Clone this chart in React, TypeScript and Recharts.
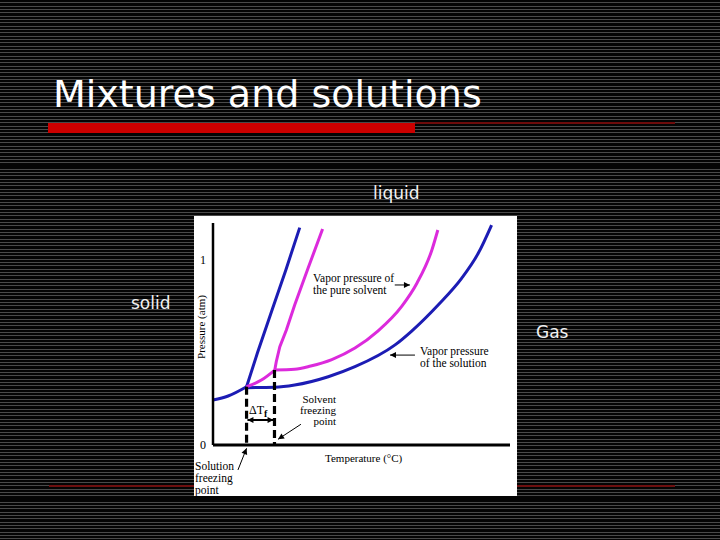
import React from "react";
import { LineChart, Line, XAxis, YAxis, ReferenceLine } from "recharts";

// temperature (arbitrary units, 0-100) vs pressure (atm)
const solidGasSolution = [
  { t: 0, p: 0.243 },
  { t: 5.1, p: 0.265 },
  { t: 11.3, p: 0.315 },
];
const solidLiquid = [
  { t: 11.3, p: 0.315 },
  { t: 15.0, p: 0.5 },
  { t: 20.0, p: 0.735 },
  { t: 24.5, p: 0.945 },
  { t: 29.2, p: 1.175 },
];
const solutionVapor = [
  { t: 11.3, p: 0.31 },
  { t: 20.8, p: 0.312 },
  { t: 27.5, p: 0.324 },
  { t: 38.8, p: 0.369 },
  { t: 47.8, p: 0.423 },
  { t: 61.3, p: 0.541 },
  { t: 66.9, p: 0.616 },
  { t: 75.8, p: 0.757 },
  { t: 83.7, p: 0.901 },
  { t: 89.3, p: 1.036 },
  { t: 93.8, p: 1.189 },
];
const pureSolidGas = [
  { t: 11.3, p: 0.315 },
  { t: 16.3, p: 0.351 },
  { t: 20.8, p: 0.405 },
];
const pureVapor = [
  { t: 20.8, p: 0.405 },
  { t: 27.5, p: 0.409 },
  { t: 32.9, p: 0.427 },
  { t: 40.0, p: 0.462 },
  { t: 47.8, p: 0.524 },
  { t: 55.5, p: 0.616 },
  { t: 63.6, p: 0.751 },
  { t: 68.7, p: 0.876 },
  { t: 73.7, p: 1.054 },
  { t: 75.7, p: 1.162 },
];
const pureSolidLiquid = [
  { t: 20.8, p: 0.405 },
  { t: 21.3, p: 0.45 },
  { t: 22.5, p: 0.531 },
  { t: 24.7, p: 0.622 },
  { t: 27.5, p: 0.757 },
  { t: 32.0, p: 0.955 },
  { t: 36.9, p: 1.168 },
];
const solutionFreeze = [
  { t: 11.3, p: 0.315 },
  { t: 11.3, p: 0 },
];
const solventFreeze = [
  { t: 20.7, p: 0.405 },
  { t: 20.7, p: 0 },
];
const yTicks = [0, 1];

const BLUE = "#1c1cb4";
const MAGENTA = "#dc2adc";

const Arrow = (props: any) => {
  const { x1, y1, x2, y2, both } = props;
  const head = (ax: number, ay: number, bx: number, by: number) => {
    const a = Math.atan2(by - ay, bx - ax);
    const L = 6;
    const W = 3;
    const p1 = [bx - L * Math.cos(a) + W * Math.sin(a), by - L * Math.sin(a) - W * Math.cos(a)];
    const p2 = [bx - L * Math.cos(a) - W * Math.sin(a), by - L * Math.sin(a) + W * Math.cos(a)];
    return <polygon points={`${bx},${by} ${p1[0]},${p1[1]} ${p2[0]},${p2[1]}`} fill="#000" />;
  };
  return (
    <g>
      <line x1={x1} y1={y1} x2={x2} y2={y2} stroke="#000" strokeWidth={both ? 2 : 1} />
      {head(x1, y1, x2, y2)}
      {both && head(x2, y2, x1, y1)}
    </g>
  );
};

const serif: React.CSSProperties = {
  position: "absolute",
  fontFamily: '"Liberation Serif", serif',
  fontSize: 11.5,
  lineHeight: "12px",
  color: "#000",
  whiteSpace: "nowrap",
};

const slideText: React.CSSProperties = {
  position: "absolute",
  fontFamily: '"DejaVu Sans", sans-serif',
  fontSize: 17,
  lineHeight: "17px",
  color: "#f2f2f2",
  whiteSpace: "nowrap",
};

export default function App() {
  return (
    <div
      style={{
        position: "absolute",
        left: 0,
        top: 0,
        width: 720,
        height: 540,
        overflow: "hidden",
        background:
          "repeating-linear-gradient(180deg, #050505 0px, #050505 2.33px, #4a4a4a 2.33px, #4a4a4a 3.33px)",
      }}
    >
      <div
        style={{
          position: "absolute",
          left: 53,
          top: 75,
          fontFamily: '"DejaVu Sans", sans-serif',
          fontSize: 38,
          lineHeight: "38px",
          color: "#fff",
          whiteSpace: "nowrap",
        }}
      >
        Mixtures and solutions
      </div>
      <div style={{ position: "absolute", left: 48, top: 123, width: 367, height: 10, background: "#cc0000" }} />
      <div style={{ position: "absolute", left: 415, top: 122, width: 260, height: 2, background: "#6e0c0c" }} />
      <div style={{ position: "absolute", left: 49, top: 485, width: 626, height: 2, background: "#6e1010" }} />

      <div style={{ ...slideText, left: 373, top: 185 }}>liquid</div>
      <div style={{ ...slideText, left: 131, top: 295 }}>solid</div>
      <div style={{ ...slideText, left: 536, top: 324 }}>Gas</div>

      <div style={{ position: "absolute", left: 194, top: 216, width: 323, height: 280, background: "#fff" }}>
        <LineChart width={323} height={280} margin={{ top: 7, right: 7, bottom: 31, left: 0 }}>
          <XAxis
            type="number"
            dataKey="t"
            domain={[0, 100]}
            tick={false}
            tickLine={false}
            height={20}
            axisLine={{ stroke: "#000", strokeWidth: 3 }}
          />
          <YAxis
            type="number"
            dataKey="p"
            domain={[0, 1.2]}
            ticks={yTicks}
            width={19}
            tickSize={0}
            tickMargin={7}
            tickLine={false}
            axisLine={{ stroke: "#000", strokeWidth: 2.5 }}
            tick={{ fill: "#000", fontSize: 12, fontFamily: '"Liberation Serif", serif' }}
          />
          <Line data={solidGasSolution} dataKey="p" type="monotone" stroke={BLUE} strokeWidth={3} dot={false} isAnimationActive={false} />
          <Line data={solidLiquid} dataKey="p" type="linear" stroke={BLUE} strokeWidth={3} dot={false} isAnimationActive={false} />
          <Line data={solutionVapor} dataKey="p" type="monotone" stroke={BLUE} strokeWidth={3} dot={false} isAnimationActive={false} />
          <Line data={pureSolidGas} dataKey="p" type="monotone" stroke={MAGENTA} strokeWidth={3} dot={false} isAnimationActive={false} />
          <Line data={pureVapor} dataKey="p" type="monotone" stroke={MAGENTA} strokeWidth={3} dot={false} isAnimationActive={false} />
          <Line data={pureSolidLiquid} dataKey="p" type="linear" stroke={MAGENTA} strokeWidth={3} dot={false} isAnimationActive={false} />
          <Line data={solutionFreeze} dataKey="p" type="linear" stroke="#000" strokeWidth={3.2} strokeDasharray="8 4" dot={false} isAnimationActive={false} />
          <Line data={solventFreeze} dataKey="p" type="linear" stroke="#000" strokeWidth={3.2} strokeDasharray="8 4" dot={false} isAnimationActive={false} />
          <ReferenceLine segment={[{ x: 61.2, y: 0.865 }, { x: 66.3, y: 0.865 }]} ifOverflow="visible" shape={(p: any) => <Arrow {...p} />} />
          <ReferenceLine segment={[{ x: 68.0, y: 0.486 }, { x: 59.6, y: 0.486 }]} ifOverflow="visible" shape={(p: any) => <Arrow {...p} />} />
          <ReferenceLine segment={[{ x: 29.6, y: 0.112 }, { x: 21.9, y: 0.031 }]} ifOverflow="visible" shape={(p: any) => <Arrow {...p} />} />
          <ReferenceLine segment={[{ x: 8.4, y: -0.135 }, { x: 11.3, y: -0.018 }]} ifOverflow="visible" shape={(p: any) => <Arrow {...p} />} />
          <ReferenceLine segment={[{ x: 11.6, y: 0.135 }, { x: 20.4, y: 0.135 }]} ifOverflow="visible" shape={(p: any) => <Arrow {...p} both />} />
        </LineChart>
      </div>

      <div style={{ ...serif, left: 313, top: 272 }}>
        Vapor pressure of
        <br />
        the pure solvent
      </div>
      <div style={{ ...serif, left: 420, top: 345 }}>
        Vapor pressure
        <br />
        of the solution
      </div>
      <div style={{ ...serif, fontSize: 11, lineHeight: "11px", right: 384, top: 394, textAlign: "right" }}>
        Solvent
        <br />
        freezing
        <br />
        point
      </div>
      <div style={{ ...serif, left: 195, top: 460 }}>
        Solution
        <br />
        freezing
        <br />
        point
      </div>
      <div style={{ ...serif, fontSize: 12, left: 249, top: 404 }}>
        ΔT<sub style={{ fontSize: 10, fontWeight: "bold", verticalAlign: "-3px" }}>f</sub>
      </div>
      <div style={{ ...serif, fontSize: 11, left: 325, top: 452 }}>Temperature (°C)</div>
      <div
        style={{
          ...serif,
          fontSize: 11,
          left: 201,
          top: 327,
          transform: "translate(-50%, -50%) rotate(-90deg)",
        }}
      >
        Pressure (atm)
      </div>
    </div>
  );
}
